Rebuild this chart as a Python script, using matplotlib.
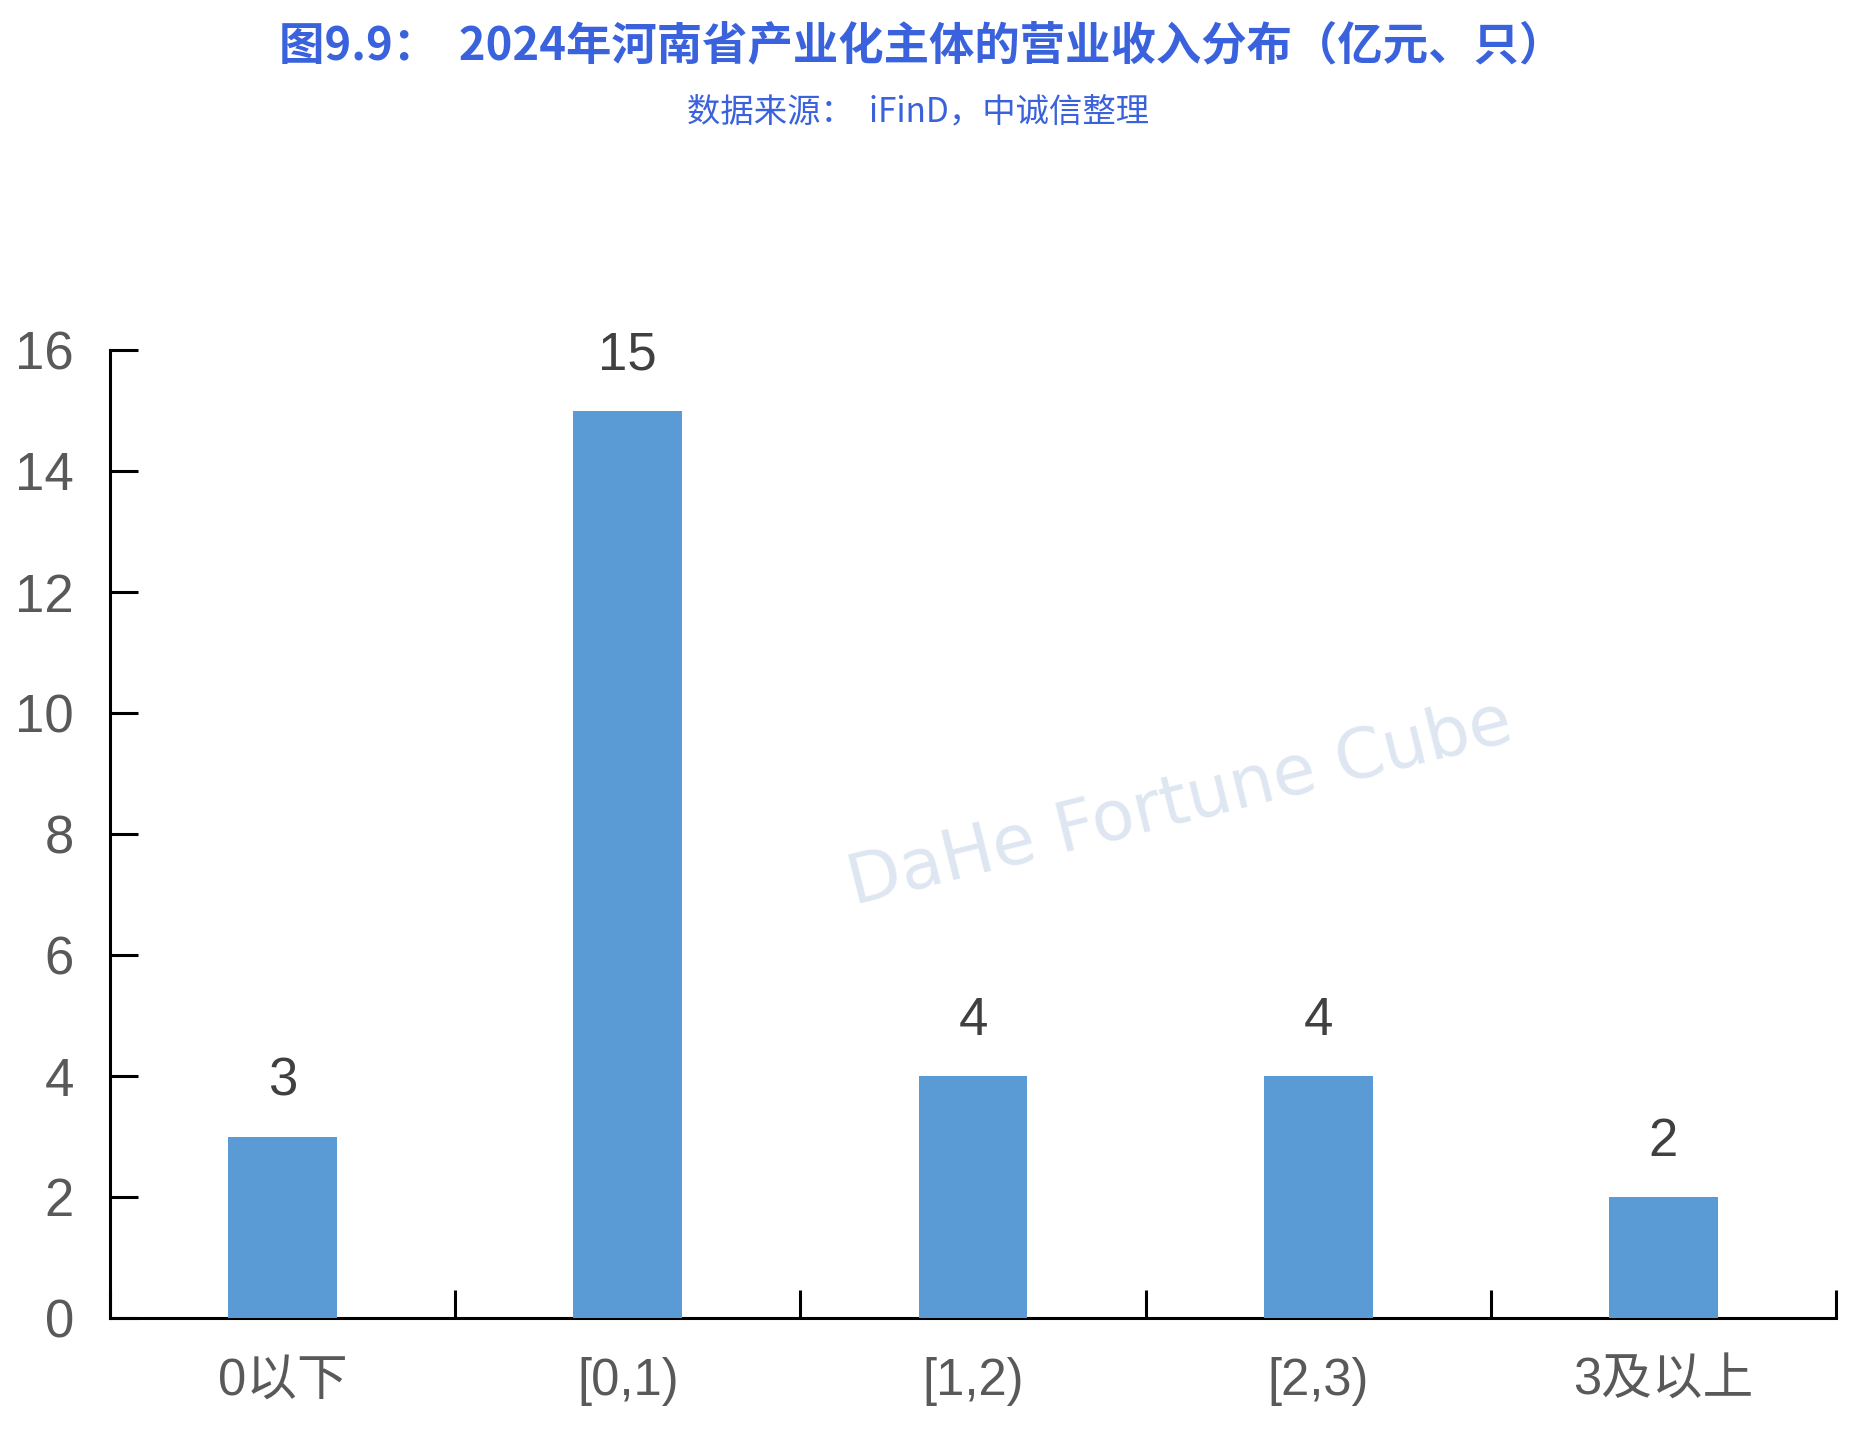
import matplotlib
matplotlib.use("Agg")
import matplotlib.pyplot as plt
import numpy as np

plt.rcParams['font.family'] = ['Noto Sans CJK SC', 'DejaVu Sans']
NUMFONT = ['Liberation Sans', 'Noto Sans CJK SC']

categories = ["0以下", "[0,1)", "[1,2)", "[2,3)", "3及以上"]
values = [3, 15, 4, 4, 2]
yticks = [0, 2, 4, 6, 8, 10, 12, 14, 16]

title = "图9.9：  2024年河南省产业化主体的营业收入分布（亿元、只）"
subtitle = "数据来源：  iFinD，中诚信整理"

W, H = 1855, 1454
fig = plt.figure(figsize=(W / 100, H / 100), dpi=100)
ax = fig.add_axes([110 / W, 1 - 1318 / H, (1836 - 110) / W, (1318 - 350) / H])

x = np.arange(len(categories))
ax.bar(x, values, width=0.315, color="#5b9bd5", zorder=3)
for xi, v in zip(x, values):
    ax.text(xi, v + 0.5, str(v), ha="center", va="bottom", fontsize=38,
            color="#404040", family=NUMFONT)

ax.set_xlim(-0.5, len(categories) - 0.5)
ax.set_ylim(0, 16)
ax.set_yticks(yticks)
ax.set_yticklabels([str(t) for t in yticks], fontsize=38, color="#595959", family=NUMFONT)
ax.set_xticks(x)
ax.set_xticklabels(categories, fontsize=36.5, color="#595959", family=NUMFONT)
ax.tick_params(axis="x", length=0, pad=28)
ax.set_xticks(np.arange(len(categories) + 1) - 0.5, minor=True)
ax.tick_params(axis="x", which="minor", direction="in", length=20, width=2.2, color="black")
ax.tick_params(axis="y", direction="in", length=20, width=2.2, pad=26, color="black")
for s in ["top", "right"]:
    ax.spines[s].set_visible(False)
for s in ["left", "bottom"]:
    ax.spines[s].set_linewidth(2.2)

# faint watermark
fig.text(0.636, 0.447, "DaHe Fortune Cube", fontsize=50, color="#d6e1ee", alpha=0.8,
         rotation=14, ha="center", va="center", family="DejaVu Sans", zorder=0)

fig.text(0.497, 1 - 46 / H, title, ha="center", va="center", fontsize=32.7,
         fontweight="bold", color="#3a62dc")
fig.text(0.495, 1 - 112 / H, subtitle, ha="center", va="center", fontsize=24,
         color="#3a62dc")

fig.savefig("out.png", dpi=100, facecolor="white")
